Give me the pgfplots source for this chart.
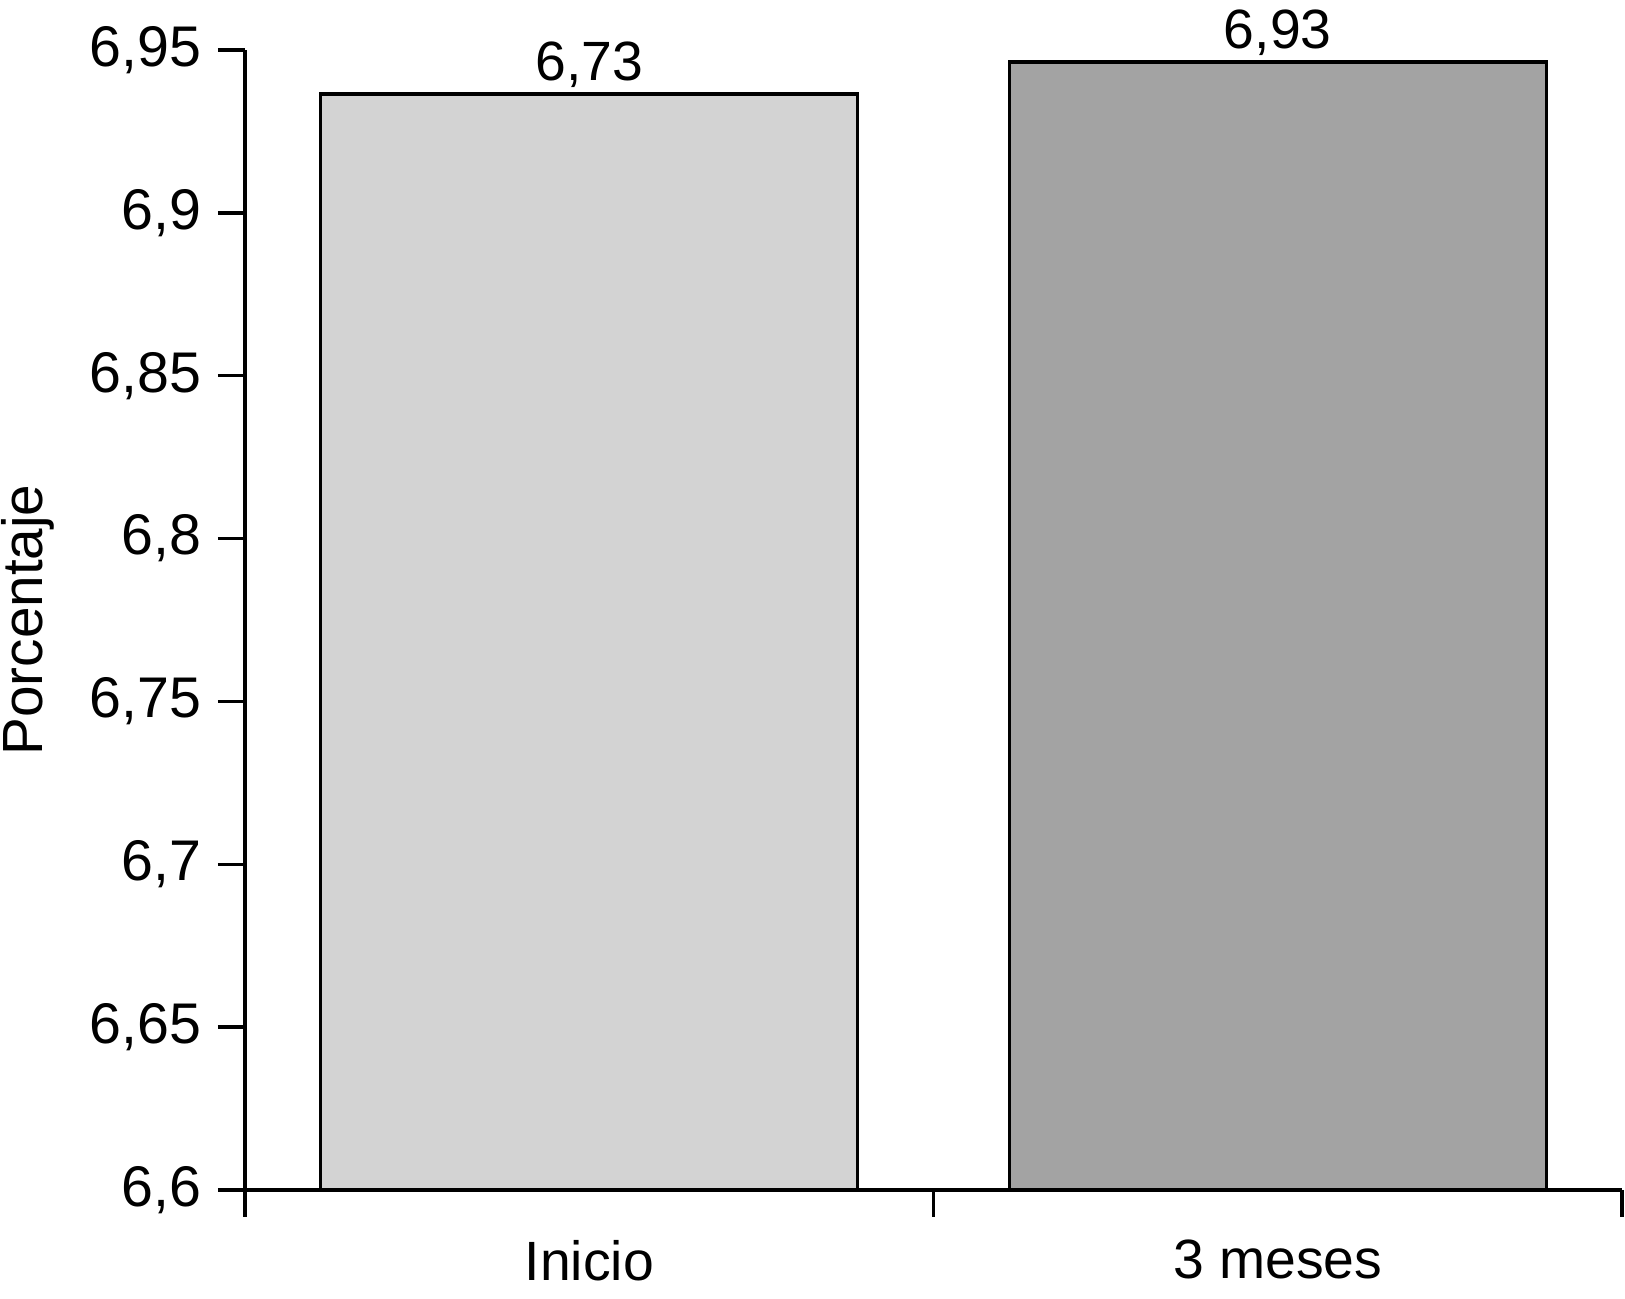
\documentclass[border=0pt]{standalone}
\usepackage{fontspec}
\setmainfont{Liberation Sans}
\usepackage{pgfplots}
\pgfplotsset{compat=1.18}
\usepackage{pgfplotstable}
\definecolor{barA}{RGB}{211,211,211}
\definecolor{barB}{RGB}{163,163,163}
\pgfplotstableread{
x y label
0.5 6.9365 {6,73}
}\inicio
\pgfplotstableread{
x y label
1.5 6.9463 {6,93}
}\tresmeses
\begin{document}
\begin{tikzpicture}
\path[use as bounding box] (-73.5pt,-32.7pt) rectangle (414pt,357pt);
\begin{axis}[
  at={(0,0)}, anchor=south west,
  scale only axis,
  width=413.1pt, height=342pt,
  xmin=0, xmax=2, ymin=6.6, ymax=6.95,
  axis lines*=left,
  axis line style={line width=1pt},
  every tick/.style={line width=1pt, black},
  tick align=outside,
  major tick length=8.1pt,
  xtick={0,1,2}, xticklabels={},
  extra x ticks={0.5,1.5},
  extra x tick labels={Inicio,3 meses},
  extra x tick style={major tick length=0pt, xticklabel style={yshift=-11.5pt}},
  ytick={6.6,6.65,6.7,6.75,6.8,6.85,6.9,6.95},
  yticklabel style={/pgf/number format/.cd, use comma, fixed, precision=2, /tikz/.cd, font=\fontsize{17.2}{20}\selectfont, xshift=-1.5pt},
  /pgf/number format/assume math mode=true,
  xticklabel style={font=\fontsize{16.6}{19}\selectfont},
  ylabel={Porcentaje},
  every axis y label/.style={at={(axis description cs:-0.1576,0.5)}, rotate=90, anchor=center, font=\fontsize{17}{20}\selectfont},
  clip mode=individual,
  ybar, bar shift=0pt, bar width=0.78,
  point meta=explicit symbolic,
  nodes near coords,
  every node near coord/.append style={font=\fontsize{16.6}{19}\selectfont, anchor=base, yshift=4pt, inner sep=0pt},
]
\addplot[draw=black, line width=1pt, fill=barA] table[x=x, y=y, meta=label] {\inicio};
\addplot[draw=black, line width=1pt, fill=barB] table[x=x, y=y, meta=label] {\tresmeses};
\end{axis}
\end{tikzpicture}
\end{document}
